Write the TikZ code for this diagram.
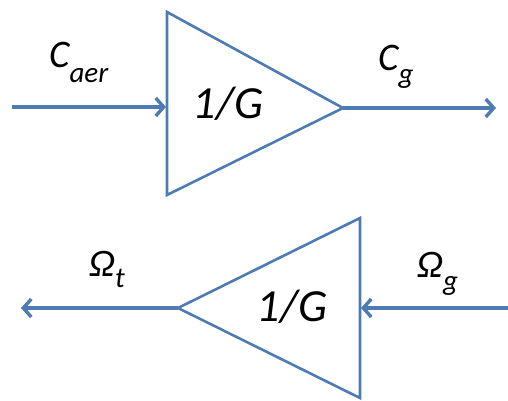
\documentclass[tikz,border=0pt]{standalone}
\usepackage{fontspec}
\setmainfont{Carlito}
\usepackage{tikz}
\usetikzlibrary{arrows.meta}
\definecolor{gainblue}{HTML}{4E7CB2}
\newcommand{\lowsub}[2][15pt]{\raisebox{-#1}{\fontsize{29}{29}\selectfont #2}}

\begin{document}
\begin{tikzpicture}[x=1pt,y=-1pt,
  gain/.style={draw=gainblue,line width=2.6pt,line join=miter},
  sig/.style={-{Straight Barb[length=8pt,width=18pt]},
    line width=3.4pt,color=gainblue},
  lbl/.style={font=\fontsize{39}{44}\selectfont\itshape,inner sep=0pt,anchor=base west},
  val/.style={font=\fontsize{46}{50}\selectfont\itshape,inner sep=0pt,anchor=base}
]
  \useasboundingbox (0,0) rectangle (508,401);
  % top block
  \coordinate (ta) at (167,12);
  \coordinate (tb) at (167,195);
  \coordinate (tc) at (343,108);
  \coordinate (tin) at (12,107);
  \coordinate (tinend) at (166,107);
  \coordinate (tout) at (496,108);
  \draw[gain] (ta) -- (tc) -- (tb) -- cycle;
  \node[val] (tgain) at (228,118) {1/G};
  \node[lbl] (caer) at (49,68) {C\lowsub{aer}};
  \node[lbl] (cg)   at (378,71) {C\lowsub[13pt]{g}};
  \draw[sig] (tin) -- (tinend);
  \draw[sig] (tc) -- (tout);
  % bottom block
  \coordinate (ba) at (360,218);
  \coordinate (bb) at (360,398);
  \coordinate (bc) at (178,308);
  \coordinate (bin) at (508,308);
  \coordinate (binend) at (361,308);
  \coordinate (bout) at (21,308);
  \draw[gain] (ba) -- (bc) -- (bb) -- cycle;
  \node[val] (bgain) at (292,321) {1/G};
  \node[lbl] (omt) at (89,276) {Ω\lowsub[11pt]{t}};
  \node[lbl] (omg) at (417,277) {Ω\lowsub[13pt]{g}};
  \draw[sig] (bin) -- (binend);
  \draw[sig] (bc) -- (bout);
\end{tikzpicture}
\end{document}
